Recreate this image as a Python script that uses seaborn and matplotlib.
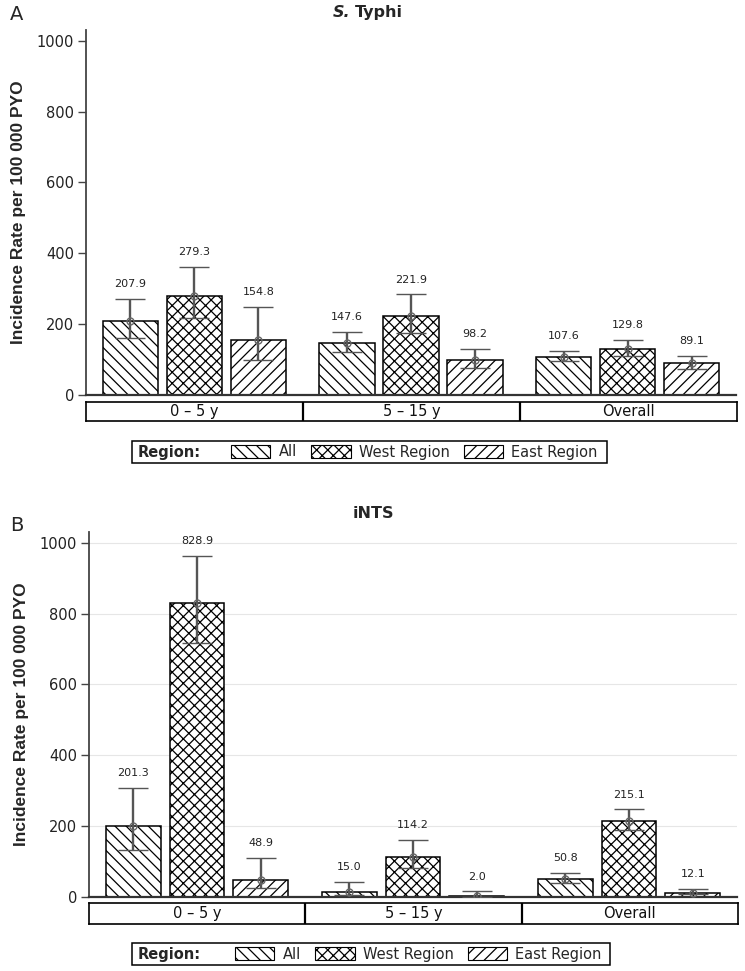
import seaborn as sns
import pandas as pd
import matplotlib.pyplot as plt
from matplotlib.patches import Patch, Rectangle

groups = ["0 – 5 y", "5 – 15 y", "Overall"]
regions = ["All", "West Region", "East Region"]
hatches = ["\\\\\\", "xxx", "///"]

# values per region, in group order
typhi_rate = {"All": [207.9, 147.6, 107.6], "West Region": [279.3, 221.9, 129.8], "East Region": [154.8, 98.2, 89.1]}
typhi_lo = {"All": [160, 122, 96], "West Region": [216, 175, 110], "East Region": [99, 75, 72]}
typhi_hi = {"All": [272, 178, 124], "West Region": [361, 284, 155], "East Region": [249, 131, 111]}

ints_rate = {"All": [201.3, 15.0, 50.8], "West Region": [828.9, 114.2, 215.1], "East Region": [48.9, 2.0, 12.1]}
ints_lo = {"All": [132, 5, 40], "West Region": [716, 82, 190], "East Region": [24, 0.5, 9.6]}
ints_hi = {"All": [308, 42, 69], "West Region": [962, 162, 247], "East Region": [111, 16, 22]}

sns.set_style("white")
plt.rcParams["font.family"] = ["DejaVu Sans"]
plt.rcParams["hatch.linewidth"] = 0.9

fig = plt.figure(figsize=(7.45, 9.71), dpi=100)
W, H = 745, 971


def fx(px):
    return px / W


def fy(py):
    return 1 - py / H


def panel(rate, lo, hi, ax_box, strip_box, leg_x, leg_y, box_x, box_w, grid):
    ax = fig.add_axes(ax_box)
    df = pd.DataFrame([(g, r, rate[r][i]) for r in regions for i, g in enumerate(groups)],
                      columns=["group", "region", "rate"])
    sns.barplot(data=df, x="group", y="rate", hue="region", order=groups, hue_order=regions,
                palette=["white"] * 3, edgecolor="black", linewidth=1.1,
                width=0.886, gap=0.14, errorbar=None, legend=False, ax=ax, zorder=2)
    bar_sets = list(ax.containers)
    for k, cont in enumerate(bar_sets):
        r = regions[k]
        for j, bar in enumerate(cont):
            bar.set_hatch(hatches[k])
            x = bar.get_x() + bar.get_width() / 2
            y = bar.get_height()
            ax.errorbar([x], [y], yerr=[[y - lo[r][j]], [hi[r][j] - y]], fmt="o", ms=5,
                        mfc="none", mec="#666666", mew=1.0, color="#555555", elinewidth=1.7,
                        capsize=10.5, capthick=1.7, zorder=3)
            ax.annotate(f"{rate[r][j]:.1f}", (x, hi[r][j]), xytext=(0, 7),
                        textcoords="offset points", ha="center", va="bottom",
                        fontsize=8, color="#222222")
    ax.set_xlim(-0.5, 2.5)
    ax.set_ylim(0, 1030)
    ax.set_yticks(range(0, 1001, 200))
    ax.tick_params(axis="y", left=True, length=5.5, width=1, color="#444444",
                   labelsize=10.5, labelcolor="#222222", pad=3)
    ax.set_xticks([])
    ax.set_xlabel("")
    ax.set_ylabel("Incidence Rate per 100 000 PYO", fontsize=12.5, fontweight="bold",
                  family="Liberation Sans", labelpad=8)
    for s in ["top", "right"]:
        ax.spines[s].set_visible(False)
    ax.spines["left"].set_color("#444444")
    ax.spines["left"].set_linewidth(1.3)
    ax.spines["bottom"].set_color("#333333")
    ax.spines["bottom"].set_linewidth(1.6)
    if grid:
        ax.yaxis.grid(True, color="#e6e6e6", lw=0.8, zorder=0)
        ax.set_axisbelow(True)

    sax = fig.add_axes(strip_box)
    sax.set_xlim(-0.5, 2.5)
    sax.set_ylim(0, 1)
    sax.set_xticks([])
    sax.set_yticks([])
    for s in sax.spines.values():
        s.set_color("black")
        s.set_linewidth(1.2)
    for b in [0.5, 1.5]:
        sax.axvline(b, color="black", lw=1.6)
    for i, g in enumerate(groups):
        sax.text(i, 0.5, g, ha="center", va="center", fontsize=10.5, color="#111111")

    # legend with "Region:" box
    handles = [Patch(facecolor="white", edgecolor="black", hatch=hatches[k], lw=0.8) for k in range(3)]
    fig.legend(handles, regions, loc="center left", bbox_to_anchor=(fx(leg_x), fy(leg_y)),
               ncol=3, frameon=False, fontsize=10.5, handlelength=2.7, handleheight=1.05,
               handletextpad=0.55, columnspacing=1.0, borderaxespad=0, borderpad=0)
    fig.text(fx(box_x + 6), fy(leg_y), "Region:", ha="left", va="center", fontsize=10.5, fontweight="bold")
    fig.patches.append(Rectangle((fx(box_x), fy(leg_y + 11)), fx(box_w), 22 / H, fill=False,
                                 ec="black", lw=1.1, transform=fig.transFigure, figure=fig))
    return ax


panel(typhi_rate, typhi_lo, typhi_hi,
      [fx(86), fy(395), fx(650), 365 / H], [fx(86), fy(421), fx(651), 19 / H],
      231, 452, 132, 475, False)
panel(ints_rate, ints_lo, ints_hi,
      [fx(89), fy(897), fx(648), 365 / H], [fx(89), fy(924), fx(649), 21 / H],
      235, 954, 132, 478, True)

# titles
fig.text(fx(350), fy(12.5), "S.", ha="right", va="center", fontsize=11.5, fontweight="bold", style="italic")
fig.text(fx(355), fy(12.5), "Typhi", ha="left", va="center", fontsize=11.5, fontweight="bold")
fig.text(fx(373), fy(513.5), "iNTS", ha="center", va="center", fontsize=11.5, fontweight="bold")
fig.text(fx(10), fy(15), "A", ha="left", va="center", fontsize=14)
fig.text(fx(10), fy(525), "B", ha="left", va="center", fontsize=14)

fig.savefig("out.png", dpi=100)
